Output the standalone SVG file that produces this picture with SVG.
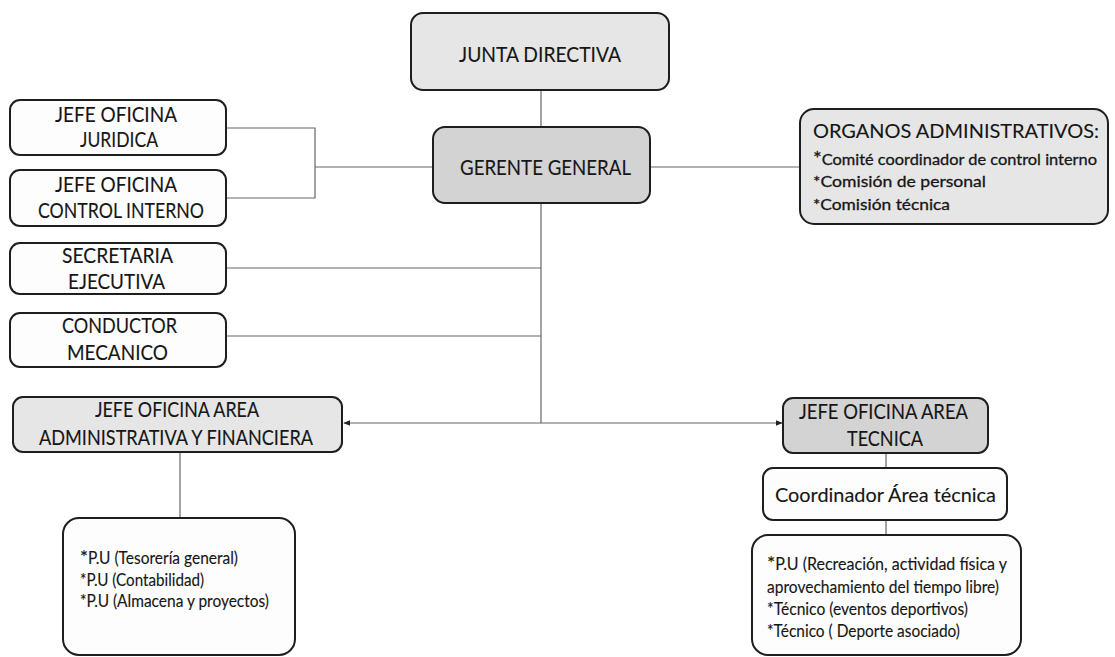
<svg xmlns="http://www.w3.org/2000/svg" width="1115" height="657" viewBox="0 0 1115 657">
  <style>
    .box { stroke: #1e1e1e; stroke-width: 2; }
    .white { fill: #fdfdfd; }
    .light { fill: #e6e6e6; }
    .dark { fill: #d3d3d3; }
    .t { font-family: Lato, "Liberation Sans", sans-serif; fill: #161616; stroke: #161616; stroke-width: 0.12; }
    .big { font-size: 22px; }
    .mid { font-size: 20px; }
    .small { font-size: 16.5px; }
    .org { font-size: 16px; stroke-width: 0.3; }
    .star { font-size: 20px; }
    .conn { stroke: #666; stroke-width: 1.2; fill: none; }
  </style>
  <defs>
    <marker id="arrow" viewBox="0 0 10 10" refX="9" refY="5" markerWidth="6" markerHeight="6" orient="auto">
      <path d="M0,1 L10,5 L0,9 z" fill="#222"/>
    </marker>
  </defs>
  <rect width="1115" height="657" fill="#ffffff"/>

  <g id="connectors">
    <line class="conn" x1="541" y1="90" x2="541" y2="127"/>
    <line class="conn" x1="315" y1="167" x2="433" y2="167"/>
    <path class="conn" d="M227,128 H315 V198 H227"/>
    <line class="conn" x1="650" y1="167" x2="800" y2="167"/>
    <line class="conn" x1="541" y1="203" x2="541" y2="423"/>
    <line class="conn" x1="226" y1="268" x2="541" y2="268"/>
    <line class="conn" x1="226" y1="336" x2="541" y2="336"/>
    <line class="conn" x1="541" y1="423" x2="344" y2="423" marker-end="url(#arrow)"/>
    <line class="conn" x1="541" y1="423" x2="782" y2="423" marker-end="url(#arrow)"/>
    <line class="conn" x1="180" y1="452" x2="180" y2="518"/>
    <line class="conn" x1="886" y1="453" x2="886" y2="468"/>
    <line class="conn" x1="886" y1="520" x2="886" y2="535"/>
  </g>

  <g id="junta">
    <rect class="box light" x="411" y="13" width="258" height="77" rx="12"/>
    <text class="t big" x="459" y="62" textLength="162" lengthAdjust="spacingAndGlyphs">JUNTA DIRECTIVA</text>
  </g>

  <g id="gerente">
    <rect class="box dark" x="433" y="127" width="217" height="76" rx="12"/>
    <text class="t big" x="460" y="175" textLength="171" lengthAdjust="spacingAndGlyphs">GERENTE GENERAL</text>
  </g>

  <g id="juridica">
    <rect class="box white" x="10" y="100" width="216" height="55" rx="10"/>
    <text class="t big" x="55" y="122" textLength="122" lengthAdjust="spacingAndGlyphs">JEFE OFICINA</text>
    <text class="t big" x="80" y="147" textLength="78" lengthAdjust="spacingAndGlyphs">JURIDICA</text>
  </g>

  <g id="control">
    <rect class="box white" x="10" y="170" width="216" height="56" rx="10"/>
    <text class="t big" x="55" y="192" textLength="122" lengthAdjust="spacingAndGlyphs">JEFE OFICINA</text>
    <text class="t big" x="38" y="218" textLength="166" lengthAdjust="spacingAndGlyphs">CONTROL INTERNO</text>
  </g>

  <g id="secretaria">
    <rect class="box white" x="10" y="243" width="216" height="51" rx="10"/>
    <text class="t big" x="62" y="263" textLength="111" lengthAdjust="spacingAndGlyphs">SECRETARIA</text>
    <text class="t big" x="68" y="289" textLength="97" lengthAdjust="spacingAndGlyphs">EJECUTIVA</text>
  </g>

  <g id="conductor">
    <rect class="box white" x="10" y="313" width="216" height="54" rx="10"/>
    <text class="t big" x="62" y="333" textLength="115" lengthAdjust="spacingAndGlyphs">CONDUCTOR</text>
    <text class="t big" x="67" y="360" textLength="101" lengthAdjust="spacingAndGlyphs">MECANICO</text>
  </g>

  <g id="organos">
    <rect class="box light" x="800" y="109" width="308" height="115" rx="14"/>
    <text class="t mid" x="813" y="138" textLength="286" lengthAdjust="spacingAndGlyphs">ORGANOS ADMINISTRATIVOS:</text>
    <text class="t org" x="813" y="165" textLength="284" lengthAdjust="spacingAndGlyphs"><tspan class="star">*</tspan>Comité coordinador de control interno</text>
    <text class="t org" x="813" y="187" textLength="173" lengthAdjust="spacingAndGlyphs">*Comisión de personal</text>
    <text class="t org" x="813" y="210" textLength="137" lengthAdjust="spacingAndGlyphs">*Comisión técnica</text>
  </g>

  <g id="admin">
    <rect class="box light" x="13" y="397" width="329" height="55" rx="10"/>
    <text class="t big" x="95" y="417" textLength="164" lengthAdjust="spacingAndGlyphs">JEFE OFICINA AREA</text>
    <text class="t big" x="39" y="445" textLength="274" lengthAdjust="spacingAndGlyphs">ADMINISTRATIVA Y FINANCIERA</text>
  </g>

  <g id="admin-staff">
    <rect class="box white" x="63" y="518" width="232" height="137" rx="16"/>
    <text class="t small" x="80" y="564" textLength="158" lengthAdjust="spacingAndGlyphs"><tspan class="star">*</tspan>P.U (Tesorería general)</text>
    <text class="t small" x="80" y="586" textLength="124" lengthAdjust="spacingAndGlyphs">*P.U (Contabilidad)</text>
    <text class="t small" x="80" y="607" textLength="189" lengthAdjust="spacingAndGlyphs">*P.U (Almacena y proyectos)</text>
  </g>

  <g id="tecnica">
    <rect class="box dark" x="783" y="398" width="205" height="55" rx="10"/>
    <text class="t big" x="799" y="419" textLength="169" lengthAdjust="spacingAndGlyphs">JEFE OFICINA AREA</text>
    <text class="t big" x="847" y="446" textLength="76" lengthAdjust="spacingAndGlyphs">TECNICA</text>
  </g>

  <g id="coordinador">
    <rect class="box white" x="763" y="468" width="244" height="52" rx="10"/>
    <text class="t mid" x="775" y="502" textLength="221" lengthAdjust="spacingAndGlyphs">Coordinador Área técnica</text>
  </g>

  <g id="tecnica-staff">
    <rect class="box white" x="752" y="535" width="269" height="120" rx="16"/>
    <text class="t small" x="767" y="570" textLength="240" lengthAdjust="spacingAndGlyphs"><tspan class="star">*</tspan>P.U (Recreación, actividad física y</text>
    <text class="t small" x="767" y="593" textLength="232" lengthAdjust="spacingAndGlyphs">aprovechamiento del tiempo libre)</text>
    <text class="t small" x="767" y="615" textLength="201" lengthAdjust="spacingAndGlyphs">*Técnico (eventos deportivos)</text>
    <text class="t small" x="767" y="637" textLength="193" lengthAdjust="spacingAndGlyphs">*Técnico ( Deporte asociado)</text>
  </g>
</svg>
